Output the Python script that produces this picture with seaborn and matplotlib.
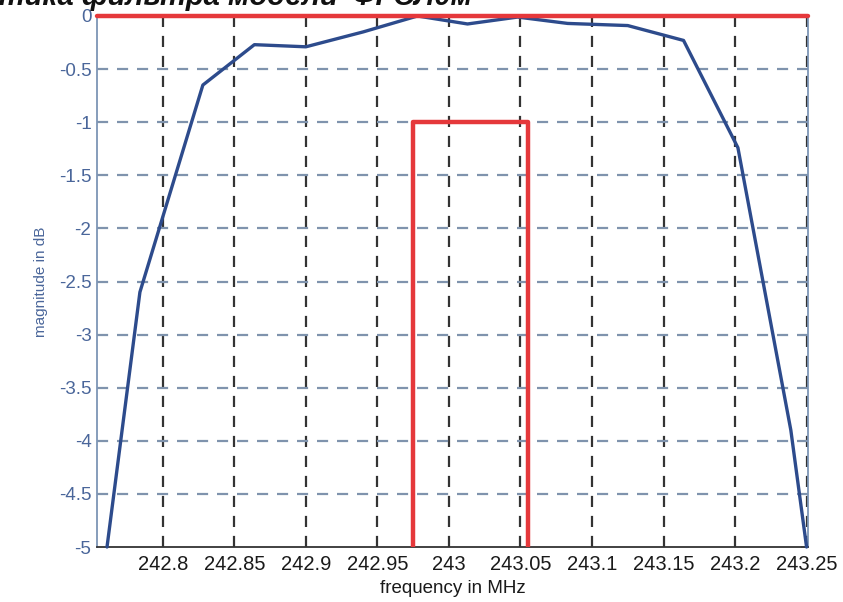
import numpy as np
import pandas as pd
import seaborn as sns
import matplotlib.pyplot as plt

# Data
freq = [242.761, 242.784, 242.828, 242.864, 242.900, 242.940, 242.978,
        243.013, 243.048, 243.083, 243.125, 243.164, 243.202, 243.239, 243.250]
mag = [-5.0, -2.6, -0.65, -0.27, -0.29, -0.15, 0.0,
       -0.075, -0.01, -0.07, -0.09, -0.23, -1.24, -3.9, -5.0]
mask_freq = [242.975, 242.975, 243.055, 243.055]
mask_mag = [-5.0, -1.0, -1.0, -5.0]
ref_freq = [242.754, 243.251]
ref_mag = [0.0, 0.0]
xticks = [242.8, 242.85, 242.9, 242.95, 243.0, 243.05, 243.1, 243.15, 243.2, 243.25]
xticklabels = ["242.8", "242.85", "242.9", "242.95", "243", "243.05", "243.1", "243.15", "243.2", "243.25"]
yticks = [0, -0.5, -1, -1.5, -2, -2.5, -3, -3.5, -4, -4.5, -5]
yticklabels = ["0", "-0.5", "-1", "-1.5", "-2", "-2.5", "-3", "-3.5", "-4", "-4.5", "-5"]
title_text = "Амплитудно-частотная характеристика фильтра модели 'ФГСЛ0м'"

sns.set_theme(style="white")
plt.rcParams['font.family'] = ['Liberation Sans', 'DejaVu Sans']

fig = plt.figure(figsize=(8.43, 6.02), dpi=100)
ax = fig.add_axes([97/843, 1-547/602, (808-97)/843, (547-16)/602])

blue = "#2d4b8c"
red = "#e5383b"
axis_blue = "#7d95b5"
tick_blue = "#4a669a"

df = pd.DataFrame({"freq": freq, "mag": mag})
dmask = pd.DataFrame({"freq": mask_freq, "mag": mask_mag})
dref = pd.DataFrame({"freq": ref_freq, "mag": ref_mag})

sns.lineplot(data=df, x="freq", y="mag", sort=False, estimator=None, color=blue, lw=2.4,
             ax=ax, clip_on=False, zorder=4)
sns.lineplot(data=dmask, x="freq", y="mag", sort=False, estimator=None, color=red, lw=3.2,
             ax=ax, zorder=5)
sns.lineplot(data=dref, x="freq", y="mag", sort=False, estimator=None, color=red, lw=3.2,
             ax=ax, clip_on=False, zorder=5)

ax.set_xlim(242.754, 243.251)
ax.set_ylim(-5, 0)
ax.set_xticks(xticks)
ax.set_xticklabels(xticklabels)
ax.set_yticks(yticks)
ax.set_yticklabels(yticklabels)

# grids
for x in xticks:
    ax.axvline(x, color="#333333", lw=1.6, ls=(0, (5, 4)), zorder=1)
for y in yticks[1:-1]:
    ax.axhline(y, color="#7f93ad", lw=1.6, ls=(0, (5, 4)), zorder=1)

ax.tick_params(axis="x", direction="in", length=5, colors="#333333", labelsize=14.5,
               labelcolor="#1a1a1a", top=True, pad=6)
ax.tick_params(axis="y", direction="in", length=5, colors=axis_blue, labelsize=13.5,
               labelcolor=tick_blue, right=True, pad=4)

for s in ["left", "right", "top"]:
    ax.spines[s].set_color(axis_blue)
    ax.spines[s].set_linewidth(1.3)
ax.spines["bottom"].set_color("#333333")
ax.spines["bottom"].set_linewidth(1.3)

ax.set_xlabel("frequency in MHz", fontsize=13.5, color="#1a1a1a", labelpad=4)
ax.set_ylabel("magnitude in dB", fontsize=11, color=tick_blue, labelpad=8)

fig.text(480/843, 1-5/602, title_text, ha="right", va="baseline", fontsize=21,
         fontstyle="italic", fontweight="bold", color="#111111")

fig.savefig("out.png", dpi=100)
